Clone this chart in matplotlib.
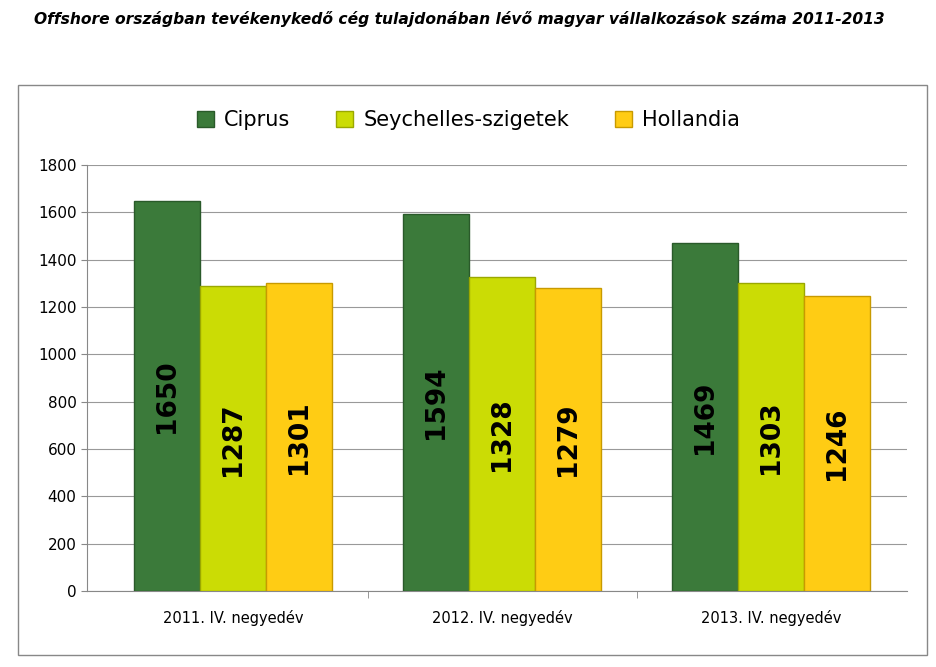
import matplotlib

matplotlib.use("Agg")
import matplotlib.pyplot as plt  # noqa: E402
import numpy as np  # noqa: E402
from matplotlib.patches import Rectangle  # noqa: E402

categories = ["2011. IV. negyedév", "2012. IV. negyedév", "2013. IV. negyedév"]
series_names = ["Ciprus", "Seychelles-szigetek", "Hollandia"]
ciprus = [1650, 1594, 1469]
seychelles = [1287, 1328, 1303]
hollandia = [1301, 1279, 1246]
yticks = [0, 200, 400, 600, 800, 1000, 1200, 1400, 1600, 1800]

colors = ["#3b7a3a", "#cbdc05", "#ffcc14"]
edges = ["#2a5a2a", "#9aa800", "#c89a00"]

fig = plt.figure(figsize=(9.37, 6.67), dpi=100)
fig.text(0.49, 0.972, "Offshore országban tevékenykedő cég tulajdonában lévő magyar vállalkozások száma 2011-2013",
         ha="center", va="center", fontsize=11.2, fontstyle="italic", fontweight="bold",
         family="DejaVu Sans")
# outer chart border
fig.patches.append(Rectangle((18 / 937, 12 / 667), 909 / 937, 570 / 667, transform=fig.transFigure,
                             fill=False, edgecolor="#888888", lw=1))

ax = fig.add_axes([87 / 937, 76 / 667, 820 / 937, 426 / 667])
x = np.arange(len(categories))
w = 0.245
for i, (vals, name) in enumerate(zip([ciprus, seychelles, hollandia], series_names)):
    pos = x + (i - 1) * w
    ax.bar(pos, vals, w, color=colors[i], edgecolor=edges[i], lw=1, label=name, zorder=3)
    for p, v in zip(pos, vals):
        ax.text(p, v / 2, str(v), rotation=90, ha="center", va="center",
                fontsize=19, fontweight="bold", color="black", zorder=4)

ax.set_ylim(0, 1800)
ax.set_xlim(-0.543, 2.505)
ax.set_yticks(yticks)
ax.tick_params(axis="y", labelsize=11, length=4, color="#888888")
ax.set_xticks(x)
ax.set_xticklabels(categories, fontsize=10.5)
ax.tick_params(axis="x", length=0, pad=14)
ax.set_xticks([0.5, 1.5], minor=True)
ax.tick_params(axis="x", which="minor", length=5, color="#888888")
ax.grid(axis="y", color="#999999", lw=0.8, zorder=0)
for s in ["top", "right"]:
    ax.spines[s].set_visible(False)
for s in ["left", "bottom"]:
    ax.spines[s].set_color("#888888")

fig.legend(loc="center", bbox_to_anchor=(0.5, 0.82), ncol=3, frameon=False, fontsize=15,
           handlelength=0.8, handleheight=0.8, columnspacing=2.2, handletextpad=0.5)

fig.savefig("out.png", dpi=100)
